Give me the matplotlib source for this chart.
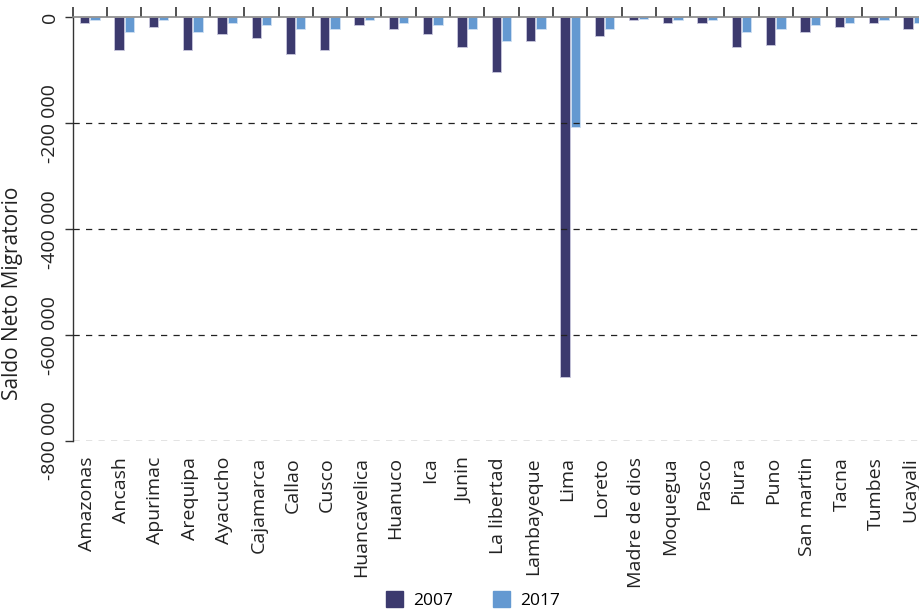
import matplotlib
matplotlib.use("Agg")
import matplotlib.pyplot as plt
import matplotlib.transforms as mtransforms
import numpy as np
from matplotlib.patches import Patch

plt.rcParams['font.family'] = ['Open Sans', 'DejaVu Sans']

regions = ["Amazonas", "Ancash", "Apurimac", "Arequipa", "Ayacucho", "Cajamarca",
           "Callao", "Cusco", "Huancavelica", "Huanuco", "Ica", "Junin",
           "La libertad", "Lambayeque", "Lima", "Loreto", "Madre de dios",
           "Moquegua", "Pasco", "Piura", "Puno", "San martin", "Tacna",
           "Tumbes", "Ucayali"]
saldo_2007 = [-11000, -61000, -19000, -61000, -32000, -40000, -69000, -61000,
              -15000, -23000, -32000, -57000, -103000, -45000, -679000, -36000,
              -5000, -10000, -10000, -57000, -53000, -28000, -19000, -10000, -23000]
saldo_2017 = [-6000, -28000, -5000, -28000, -11000, -15000, -23000, -23000,
              -5000, -10000, -15000, -23000, -45000, -23000, -208000, -23000,
              -4000, -5000, -5000, -28000, -23000, -15000, -10000, -5000, -10000]
y_ticks = [0, -200000, -400000, -600000, -800000]
y_ticklabels = ["0", "-200 000", "-400 000", "-600 000", "-800 000"]
series_labels = ["2007", "2017"]

c07 = "#3c3a6e"
c17 = "#6499d1"

fig = plt.figure(figsize=(9.19, 6.14), dpi=100)
ax = fig.add_axes([72.7 / 919, 1 - 441 / 614, 857.5 / 919, (441 - 17.3) / 614])

x = np.arange(len(regions))
w = 0.27
ax.bar(x - 0.15, saldo_2007, w, color=c07, edgecolor="#c9c8dd", linewidth=0.6, zorder=2)
ax.bar(x + 0.15, saldo_2017, w, color=c17, edgecolor="#cfe0f2", linewidth=0.6, zorder=2)

ax.set_xlim(-0.5, len(regions) - 0.5)
ax.set_ylim(-800000, 0)

for v in y_ticks[1:]:
    ax.axhline(v, color="#222222", linestyle=(0, (5, 5)), linewidth=0.9, zorder=3)

ax.set_yticks(y_ticks)
ax.set_yticklabels(y_ticklabels, rotation=90, va="center", fontsize=14, color="#222222")
ax.tick_params(axis="y", direction="out", length=6, width=1, color="#333333", pad=4)

ax.set_xticks(x)
ax.set_xticklabels(regions, rotation=90, fontsize=14, color="#222222")
ax.tick_params(axis="x", which="major", bottom=False, top=False, pad=8)
shift = mtransforms.ScaledTranslation(-3 / 100, 0, fig.dpi_scale_trans)
for lbl in ax.get_xticklabels():
    lbl.set_transform(lbl.get_transform() + shift)
ax.set_xticks(np.arange(-0.5, len(regions) + 0.5, 1), minor=True)
ax.tick_params(axis="x", which="minor", bottom=False, top=True, direction="out",
               length=7, width=1.2, color="#333333")

for s in ["bottom", "right"]:
    ax.spines[s].set_visible(False)
ax.spines["top"].set_color("#888888")
ax.spines["top"].set_linewidth(1.2)
ax.spines["left"].set_color("#333333")
ax.spines["left"].set_linewidth(1)

ax.set_ylabel("Saldo Neto Migratorio", fontsize=15, color="#222222")
ax.yaxis.set_label_coords(-0.0585, 0.349)

handles = [Patch(color=c07), Patch(color=c17)]
fig.legend(handles, series_labels, loc="center", bbox_to_anchor=(473 / 919, 1 - 600 / 614),
           ncol=2, frameon=False, fontsize=12.5, handlelength=1.0, handleheight=1.0,
           columnspacing=2.25, handletextpad=0.6)

fig.savefig("out.png", dpi=100)
